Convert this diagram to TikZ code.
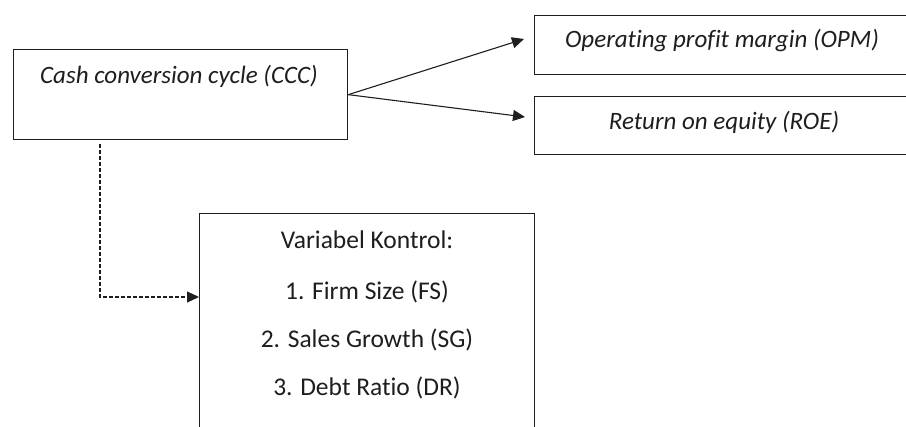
\documentclass[tikz,border=0pt]{standalone}
\usepackage{fontspec}
\setmainfont[Ligatures={NoCommon}]{Carlito}
\usetikzlibrary{arrows.meta}
\definecolor{ink}{HTML}{1E1E1E}
\tikzset{
  box/.style={draw=ink, line width=1.3pt, rectangle, inner sep=0pt},
  lbl/.style={font=\fontsize{25.5}{30}\selectfont, text=ink, inner sep=0pt},
  ilbl/.style={font=\fontsize{25}{30}\selectfont\itshape, text=ink, inner sep=0pt},
  arr/.style={draw=ink, line width=1.1pt, -{Triangle[length=12pt,width=11pt]}},
  darr/.style={arr, dash pattern=on 4pt off 2pt},
}
\begin{document}
\begin{tikzpicture}[x=1pt,y=-1pt]
\fill[white] (0,0) rectangle (906,427);
\clip (0,0) rectangle (906,427);
% boxes
\node[box, anchor=north west, minimum width=334pt, minimum height=90pt] (ccc) at (13,49) {};
\node[box, anchor=north west, minimum width=378pt, minimum height=59pt] (opm) at (534,15) {};
\node[box, anchor=north west, minimum width=378pt, minimum height=58pt] (roe) at (534,96) {};
\node[box, anchor=north west, minimum width=335pt, minimum height=250pt] (ctrl) at (199,213) {};
% texts
\node[ilbl] (ccct) at (179,76) {Cash conversion cycle (CCC)};
\node[ilbl] (opmt) at (722,41) {Operating profit margin (OPM)};
\node[ilbl] (roet) at (724,122) {Return on equity (ROE)};
\node[lbl] (ctrlh) at (367,240) {Variabel Kontrol:};
\node[lbl] (fs) at (367,292) {1. Firm Size (FS)};
\node[lbl] (sg) at (367,340) {2. Sales Growth (SG)};
\node[lbl] (dr) at (367,388) {3. Debt Ratio (DR)};
% connectors
\coordinate (opmtip) at (524,39);
\coordinate (roetip) at (525,117);
\draw[arr] (ccc.east) -- (opmtip);
\draw[arr] (ccc.east) -- (roetip);
\coordinate (dstart) at (100,144);
\coordinate (dy) at (0,297);
\draw[darr] (dstart) |- (ctrl.west |- dy);
\end{tikzpicture}
\end{document}
